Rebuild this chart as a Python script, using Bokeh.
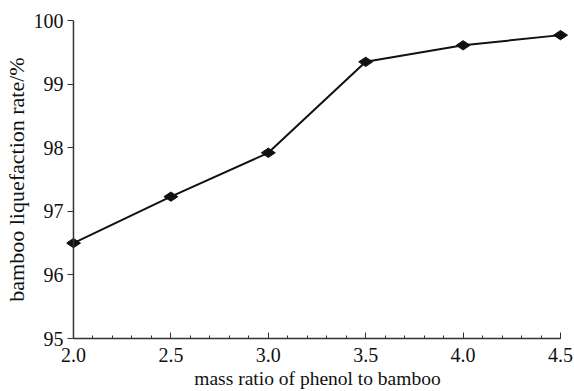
import math
from bokeh.plotting import figure
from bokeh.models import Range1d, SingleIntervalTicker, PrintfTickFormatter, Span
from bokeh.embed import file_html
from bokeh.resources import INLINE

ratio = [2.0, 2.5, 3.0, 3.5, 4.0, 4.5]
rate = [96.5, 97.23, 97.92, 99.35, 99.61, 99.77]

FONT = "Liberation Serif"

# small padding so that the end markers are not clipped by the frame
x_lo, x_hi = 2.0, 4.5
pad_l, pad_r = 0.0358, 0.0409

p = figure(width=574, height=391, output_backend="svg", toolbar_location=None,
           x_range=Range1d(x_lo - pad_l, x_hi + pad_r), y_range=Range1d(95, 100),
           min_border_left=64, min_border_right=6, min_border_top=20, min_border_bottom=52)
p.outline_line_color = None
p.grid.visible = False
p.background_fill_color = "white"
p.border_fill_color = "white"

# y axis line drawn at x = 2.0
p.add_layout(Span(location=x_lo, dimension="height", line_color="#333333", line_width=1.5))

p.line(ratio, rate, line_color="#111111", line_width=2)
p.scatter(ratio, rate, marker="diamond", size=14, angle=math.pi / 2,
          fill_color="#111111", line_color="#111111")

xa = p.xaxis[0]
xa.ticker = SingleIntervalTicker(interval=0.5, num_minor_ticks=5)
xa.formatter = PrintfTickFormatter(format="%.1f")
xa.bounds = (x_lo, x_hi)
xa.major_tick_in = 6
xa.major_tick_out = 0
xa.minor_tick_in = 3
xa.minor_tick_out = 0
xa.axis_label = "mass ratio of phenol to bamboo"
xa.major_label_standoff = 9
xa.axis_label_standoff = 3
xa.axis_label_text_font_size = "19.5px"
xa.axis_line_color = "#333333"

ya = p.yaxis[0]
ya.ticker = SingleIntervalTicker(interval=1, num_minor_ticks=0)
ya.axis_line_color = None
ya.major_tick_in = 7
ya.major_tick_out = -1
ya.minor_tick_in = 0
ya.minor_tick_out = 0
ya.axis_label = "bamboo liquefaction rate/%"
ya.major_label_standoff = 3
ya.axis_label_standoff = 2
ya.axis_label_text_font_size = "22px"

for ax in (xa, ya):
    ax.axis_line_width = 1.5
    ax.major_tick_line_color = "#333333"
    ax.minor_tick_line_color = "#333333"
    ax.major_label_text_font = FONT
    ax.major_label_text_font_size = "20px"
    ax.major_label_text_color = "#111111"
    ax.axis_label_text_font = FONT
    ax.axis_label_text_font_style = "normal"
    ax.axis_label_text_color = "#111111"

open("out.html", "w").write(file_html(p, INLINE))
